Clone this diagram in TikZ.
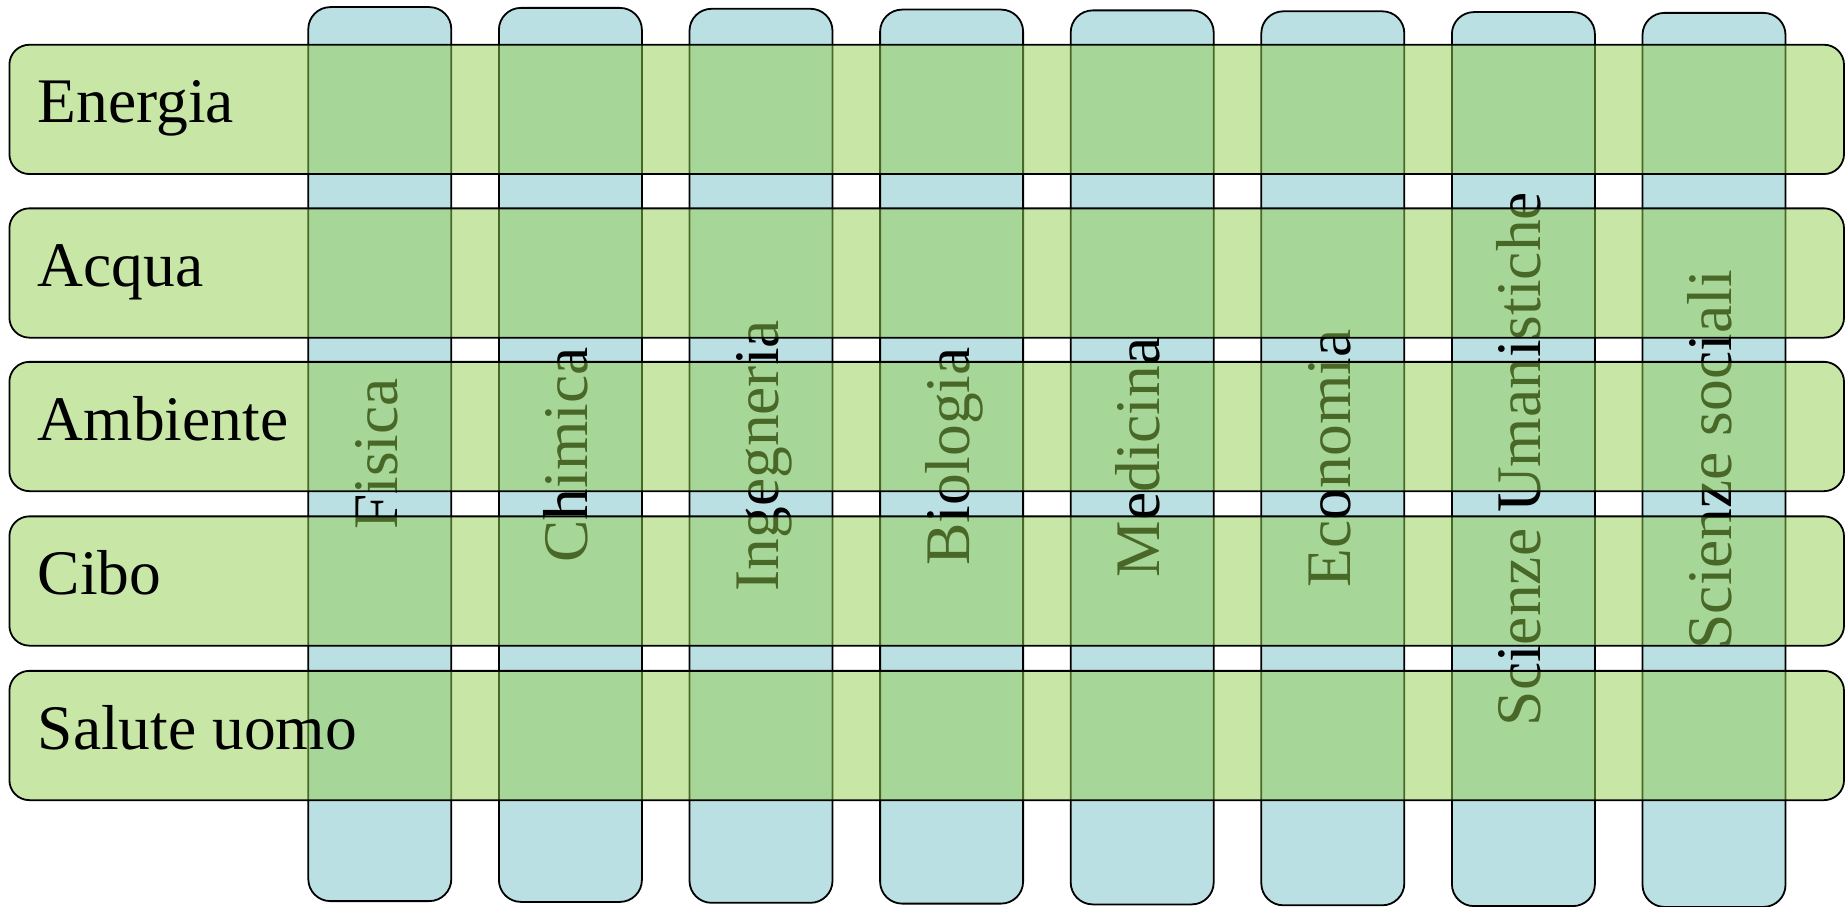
\documentclass[tikz,border=0pt]{standalone}
\usepackage{fontspec}
\setmainfont{Liberation Serif}
\definecolor{colblue}{RGB}{187,224,227}
\definecolor{rowgreen}{RGB}{146,208,80}
\begin{document}
\begin{tikzpicture}[x=1pt,y=-1pt,
  bigfont/.style={font=\fontsize{63.5}{70}\selectfont},
  colbox/.style={draw=black, line width=1.8pt, fill=colblue, rounded corners=22pt,
    minimum width=894pt, minimum height=143pt, rotate=90, inner sep=0pt, bigfont,
    text height=43pt, text depth=8pt},
  rowbox/.style={draw=black, line width=1.8pt, fill=rowgreen, fill opacity=0.5,
    draw opacity=1, rounded corners=20pt, minimum width=1834.6pt,
    minimum height=129.3pt, inner sep=0pt},
  rowlabel/.style={anchor=base west, inner sep=0pt, bigfont, text=black}]
\useasboundingbox (0,0) rectangle (1845,907);
% columns
\node[colbox] (c1) at (379.8,454.1) {Fisica};
\node[colbox] (c2) at (570.4,454.9) {Chimica};
\node[colbox] (c3) at (761.0,455.8) {Ingegneria};
\node[colbox] (c4) at (951.6,456.6) {Biologia};
\node[colbox] (c5) at (1142.2,457.4) {Medicina};
\node[colbox] (c6) at (1332.8,458.3) {Economia};
\node[colbox] (c7) at (1523.4,459.1) {Scienze Umanistiche};
\node[colbox] (c8) at (1714.0,459.9) {Scienze sociali};
% rows
\node[rowbox] (r1) at (926.7,109.4) {};
\node[rowbox] (r2) at (926.7,273.0) {};
\node[rowbox] (r3) at (926.7,426.5) {};
\node[rowbox] (r4) at (926.7,581.0) {};
\node[rowbox] (r5) at (926.7,735.5) {};
% row labels
\node[rowlabel] (l1) at (37.6,122.9) {Energia};
\node[rowlabel] (l2) at (37.6,286.5) {Acqua};
\node[rowlabel] (l3) at (37.6,440.0) {Ambiente};
\node[rowlabel] (l4) at (37.6,594.5) {Cibo};
\node[rowlabel] (l5) at (37.6,749.0) {Salute uomo};
\end{tikzpicture}
\end{document}
